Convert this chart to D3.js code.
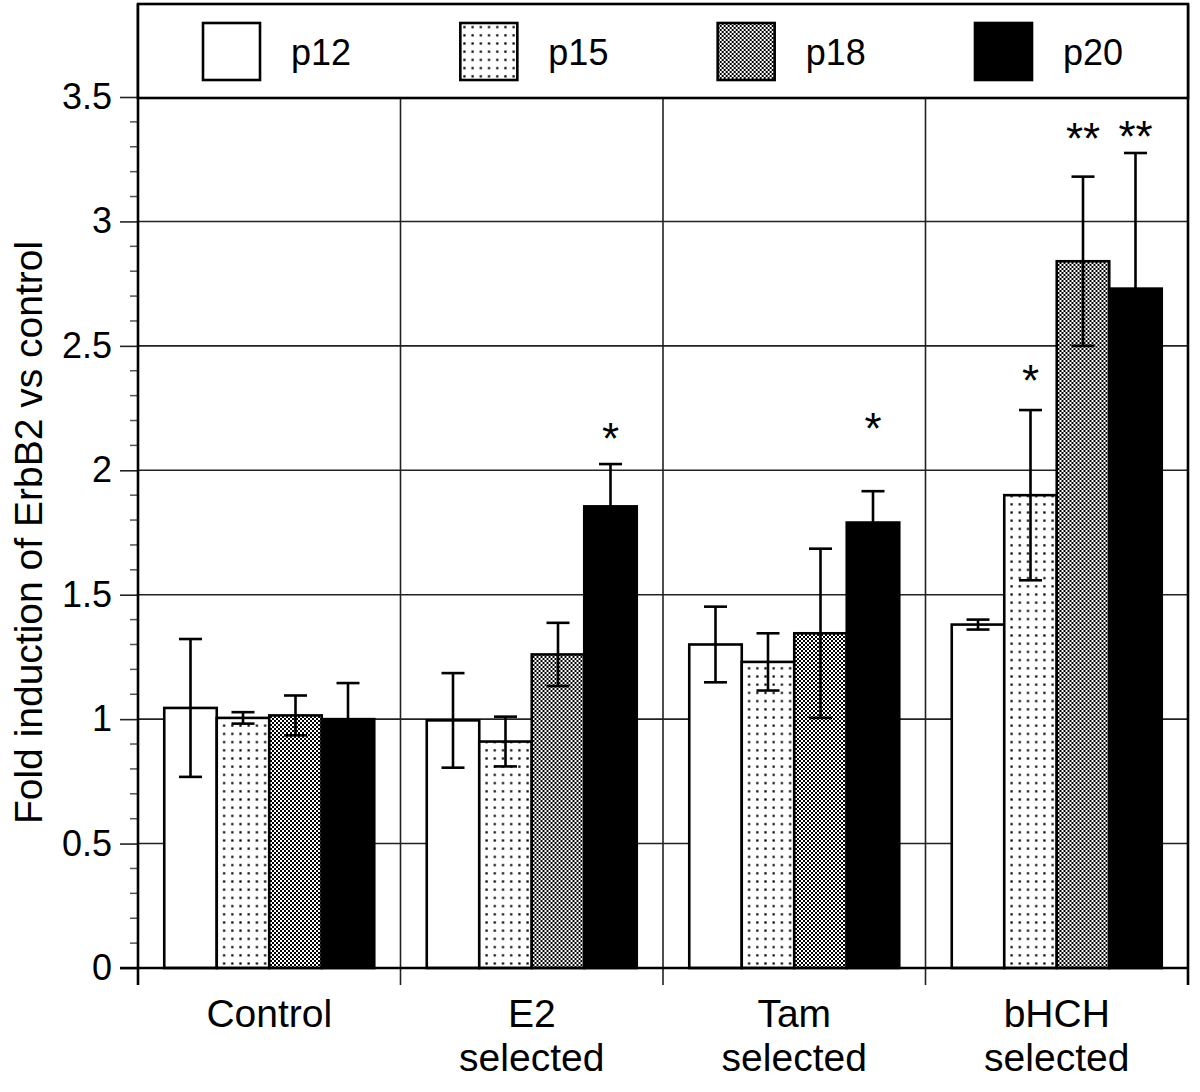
<!DOCTYPE html>
<html>
<head>
<meta charset="utf-8">
<script src="https://cdn.jsdelivr.net/npm/d3@7/dist/d3.min.js"></script>
<style>
  html, body { margin: 0; padding: 0; background: #fff; }
  svg { display: block; font-family: "Liberation Sans", Arial, sans-serif; }
</style>
</head>
<body>
<svg id="chart" width="1200" height="1092"></svg>
<script>
// ---- data ----
const categories = ["Control", "E2 selected", "Tam selected", "bHCH selected"];
const categoryLines = [["Control"], ["E2", "selected"], ["Tam", "selected"], ["bHCH", "selected"]];
const series = ["p12", "p15", "p18", "p20"];
const p12 = [1.045, 0.995, 1.30, 1.38];
const p15 = [1.005, 0.91, 1.23, 1.90];
const p18 = [1.015, 1.26, 1.345, 2.84];
const p20 = [1.0, 1.855, 1.79, 2.73];
const p12Err = [0.277, 0.19, 0.152, 0.02];
const p15Err = [0.023, 0.10, 0.115, 0.342];
const p18Err = [0.08, 0.127, 0.34, 0.34];
const p20Err = [0.145, 0.17, 0.126, 0.545];
const yTicks = [0, 0.5, 1, 1.5, 2, 2.5, 3, 3.5];
const yTickLabels = ["0", "0.5", "1", "1.5", "2", "2.5", "3", "3.5"];
const annotations = [
  { category: "E2 selected", series: "p20", label: "*", y: 2.165 },
  { category: "Tam selected", series: "p20", label: "*", y: 2.205 },
  { category: "bHCH selected", series: "p15", label: "*", y: 2.40 },
  { category: "bHCH selected", series: "p18", label: "**", y: 3.37 },
  { category: "bHCH selected", series: "p20", label: "**", y: 3.38 }
];
const yLabel = "Fold induction of ErbB2 vs control";

const values = { p12, p15, p18, p20 };
const errors = { p12: p12Err, p15: p15Err, p18: p18Err, p20: p20Err };
const rows = [];
categories.forEach((c, i) => series.forEach(s => rows.push({ category: c, series: s, value: values[s][i], err: errors[s][i] })));

// ---- layout ----
const svg = d3.select("#chart");
const pL = 138, pR = 1188, pT = 97, pB = 968;
const legendTop = 4;

const x0 = d3.scaleBand().domain(categories).range([pL, pR]).padding(0);
const x1 = d3.scaleBand().domain(series).range([x0.bandwidth() * 0.1, x0.bandwidth() * 0.9]).padding(0);
const y = d3.scaleLinear().domain([0, 3.5]).range([pB, pT]);

const fills = { p12: "#fff", p15: "url(#dots)", p18: "url(#checker)", p20: "#000" };

// patterns
const defs = svg.append("defs");
const dots = defs.append("pattern").attr("id", "dots").attr("patternUnits", "userSpaceOnUse")
  .attr("width", 8.2).attr("height", 8.2);
dots.append("rect").attr("width", 8.2).attr("height", 8.2).attr("fill", "#fff");
dots.append("rect").attr("x", 3).attr("y", 3).attr("width", 2.2).attr("height", 2.2).attr("fill", "#000");
const checker = defs.append("pattern").attr("id", "checker").attr("patternUnits", "userSpaceOnUse")
  .attr("width", 4).attr("height", 4);
checker.append("rect").attr("width", 4).attr("height", 4).attr("fill", "#fff");
checker.append("rect").attr("x", 0).attr("y", 0).attr("width", 2).attr("height", 2).attr("fill", "#000");
checker.append("rect").attr("x", 2).attr("y", 2).attr("width", 2).attr("height", 2).attr("fill", "#000");

// horizontal grid
svg.append("g").selectAll("line").data(yTicks.filter(d => d > 0)).join("line")
  .attr("x1", pL).attr("x2", pR)
  .attr("y1", d => y(d)).attr("y2", d => y(d))
  .attr("stroke", "#222").attr("stroke-width", 1.6);

// vertical separators + ticks below axis
const seps = categories.slice(1).map(c => x0(c));
svg.append("g").selectAll("line").data(seps).join("line")
  .attr("x1", d => d).attr("x2", d => d)
  .attr("y1", pT).attr("y2", pB + 17)
  .attr("stroke", "#222").attr("stroke-width", 1.6);

// minor ticks
const minor = d3.range(1, 35).map(i => i / 10).filter(v => Math.abs(v * 2 - Math.round(v * 2)) > 1e-6);
svg.append("g").selectAll("line").data(minor).join("line")
  .attr("x1", pL - 8).attr("x2", pL)
  .attr("y1", d => y(d)).attr("y2", d => y(d))
  .attr("stroke", "#555").attr("stroke-width", 1.5);

// y axis (major ticks and labels)
const yAxis = d3.axisLeft(y).tickValues(yTicks).tickSize(18).tickPadding(8)
  .tickFormat((d, i) => yTickLabels[i]);
const gy = svg.append("g").attr("transform", `translate(${pL},0)`).call(yAxis);
gy.select(".domain").remove();
gy.selectAll(".tick line").attr("stroke", "#222").attr("stroke-width", 1.6);
gy.selectAll(".tick text").attr("font-size", 36).attr("fill", "#000")
  .attr("font-family", "'Liberation Sans', Arial, sans-serif").attr("x", -26);

// bars
const groups = svg.append("g").selectAll("g").data(categories).join("g")
  .attr("transform", d => `translate(${x0(d)},0)`);
groups.selectAll("rect").data(c => rows.filter(r => r.category === c)).join("rect")
  .attr("x", d => x1(d.series)).attr("width", x1.bandwidth())
  .attr("y", d => y(d.value)).attr("height", d => y(0) - y(d.value))
  .attr("fill", d => fills[d.series]).attr("stroke", "#000").attr("stroke-width", 2.6);

// error bars
const eb = svg.append("g").attr("stroke", "#000").attr("stroke-width", 2.6);
const capW = 11.5;
rows.forEach(r => {
  const cx = x0(r.category) + x1(r.series) + x1.bandwidth() / 2;
  const hi = y(r.value + r.err), lo = y(r.value - r.err);
  eb.append("line").attr("x1", cx).attr("x2", cx).attr("y1", hi).attr("y2", lo);
  eb.append("line").attr("x1", cx - capW).attr("x2", cx + capW).attr("y1", hi).attr("y2", hi);
  eb.append("line").attr("x1", cx - capW).attr("x2", cx + capW).attr("y1", lo).attr("y2", lo);
});

// significance stars
svg.append("g").selectAll("text").data(annotations).join("text")
  .attr("x", d => x0(d.category) + x1(d.series) + x1.bandwidth() / 2)
  .attr("y", d => y(d.y) + 25)
  .attr("text-anchor", "middle").attr("font-size", 44).attr("fill", "#000")
  .text(d => d.label);

// axes frame
svg.append("line").attr("x1", pL).attr("x2", pL).attr("y1", legendTop).attr("y2", pB + 17)
  .attr("stroke", "#000").attr("stroke-width", 2.6);
svg.append("line").attr("x1", pR).attr("x2", pR).attr("y1", legendTop).attr("y2", pB + 17)
  .attr("stroke", "#000").attr("stroke-width", 2.6);
svg.append("line").attr("x1", pL - 18).attr("x2", pR).attr("y1", pB).attr("y2", pB)
  .attr("stroke", "#000").attr("stroke-width", 2.6);

// category labels
const cl = svg.append("g").selectAll("text").data(categories).join("text")
  .attr("x", d => x0(d) + x0.bandwidth() / 2)
  .attr("y", 1027)
  .attr("text-anchor", "middle").attr("font-size", 39).attr("fill", "#000");
cl.selectAll("tspan").data((d, i) => categoryLines[i]).join("tspan")
  .attr("x", function () { return d3.select(this.parentNode).attr("x"); })
  .attr("dy", (d, i) => i === 0 ? 0 : 44)
  .text(d => d);

// y label
svg.append("text")
  .attr("transform", `translate(42,${(pT + pB) / 2}) rotate(-90)`)
  .attr("text-anchor", "middle").attr("font-size", 39).attr("fill", "#000")
  .text(yLabel);

// legend
const lg = svg.append("g");
lg.append("rect").attr("x", pL).attr("y", legendTop).attr("width", pR - pL).attr("height", pT + 1 - legendTop)
  .attr("fill", "#fff").attr("stroke", "#000").attr("stroke-width", 2.6);
const legendX = d3.scalePoint().domain(series).range([203, 975]);
const li = lg.selectAll("g").data(series).join("g").attr("transform", d => `translate(${legendX(d)},23)`);
li.append("rect").attr("width", 57).attr("height", 57)
  .attr("fill", d => fills[d]).attr("stroke", "#000").attr("stroke-width", 2.6);
li.append("text").attr("x", 88).attr("y", 42).attr("font-size", 36).attr("fill", "#000").text(d => d);
</script>
</body>
</html>
